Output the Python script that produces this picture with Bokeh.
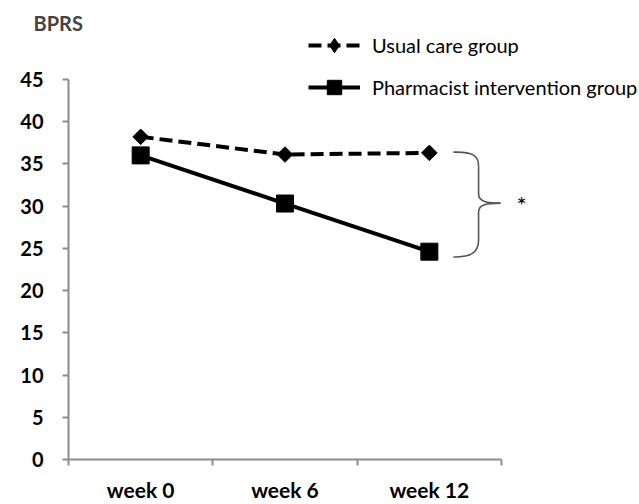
import numpy as np
from bokeh.plotting import figure
from bokeh.models import (Range1d, LinearAxis, FixedTicker, Legend, LegendItem, Label)
from bokeh.embed import file_html
from bokeh.resources import INLINE

# ---- data ----
cats = ["week 0", "week 6", "week 12"]
usual_care = [38.2, 36.1, 36.3]
pharmacist = [36.0, 30.3, 24.6]
y_ticks = [0, 5, 10, 15, 20, 25, 30, 35, 40, 45]

GRAY = "#8c8c8c"
FONT = "Lato"

# category slots: each category occupies one unit, marks sit at slot centres
slot_edges = list(range(len(cats) + 1))
slot_centres = [i + 0.5 for i in range(len(cats))]

p = figure(width=639, height=504,
           x_range=Range1d(0, 3.956), y_range=Range1d(0, 51.02),
           x_axis_type=None, y_axis_type=None,
           output_backend="svg", toolbar_location=None,
           min_border_left=68, min_border_right=0, min_border_top=28, min_border_bottom=44)
p.outline_line_color = None
p.background_fill_color = "white"

p.title.text = "BPRS"
p.title.text_font = FONT
p.title.text_font_style = "bold"
p.title.text_font_size = "20px"
p.title.align = "left"
p.title.offset = -35
p.title.standoff = -12

xaxis = LinearAxis(ticker=FixedTicker(ticks=slot_centres, minor_ticks=slot_edges),
                   bounds=(0, len(cats)),
                   major_label_overrides={c: lab for c, lab in zip(slot_centres, cats)},
                   major_tick_in=0, major_tick_out=0, major_tick_line_color=None,
                   minor_tick_in=0, minor_tick_out=6, minor_tick_line_color=GRAY, minor_tick_line_width=2,
                   major_label_standoff=11,
                   axis_line_color=GRAY, axis_line_width=2,
                   major_label_text_font=FONT, major_label_text_font_style="bold",
                   major_label_text_font_size="21px", major_label_text_color="black")
p.add_layout(xaxis, "below")

yaxis = LinearAxis(ticker=FixedTicker(ticks=y_ticks), bounds=(0, 45),
                   major_tick_in=0, major_tick_out=6, minor_tick_out=0, minor_tick_in=0,
                   major_label_standoff=19,
                   axis_line_color=GRAY, axis_line_width=2,
                   major_tick_line_color=GRAY, major_tick_line_width=2,
                   major_label_text_font=FONT, major_label_text_font_style="bold",
                   major_label_text_font_size="20px", major_label_text_color="black")
p.add_layout(yaxis, "left")

# series
r1 = p.line(slot_centres, usual_care, line_dash="13 6", line_width=4, color="black")
s1 = p.scatter(slot_centres, usual_care, marker="square", angle=np.pi / 4, size=11, color="black")
r2 = p.line(slot_centres, pharmacist, line_width=4, color="black")
s2 = p.scatter(slot_centres, pharmacist, marker="square", size=17, color="black")
# legend-only diamond proxy (no visible points)
s1_key = p.scatter(x=[np.nan], y=[np.nan], marker="diamond", size=16, color="black")

legend = Legend(items=[LegendItem(label="Usual care group", renderers=[r1, s1_key]),
                       LegendItem(label="Pharmacist intervention group", renderers=[r2, s2])],
                location=(240, 354), glyph_width=52, glyph_height=36, label_height=36,
                label_standoff=12, spacing=6, padding=0, margin=0,
                border_line_color=None, background_fill_alpha=0,
                label_text_font=FONT, label_text_font_size="20px", label_text_color="black")
p.add_layout(legend)

# brace
bx0, bxv, bxt = 2.667, 2.841, 2.993
p.bezier(x0=[bx0, bxv, bxt, bxv], y0=[36.38, 31.42, 30.35, 25.98],
         x1=[bxv, bxt, bxv, bx0], y1=[34.72, 30.35, 29.29, 23.98],
         cx0=[2.80, bxv, 2.90, bxv], cy0=[36.45, 30.5, 30.35, 24.6],
         cx1=[bxv, 2.90, bxv, 2.80], cy1=[36.0, 30.35, 30.2, 23.95],
         line_color="#555555", line_width=1.6)
p.segment(x0=[bxv, bxv], y0=[34.72, 29.29], x1=[bxv, bxv], y1=[31.42, 25.98],
          line_color="#555555", line_width=1.6)

p.add_layout(Label(x=3.14, y=30.2, text="*", text_align="center", text_baseline="middle",
                   text_font=FONT, text_font_size="24px", text_color="black"))

open("out.html", "w").write(file_html(p, INLINE))
